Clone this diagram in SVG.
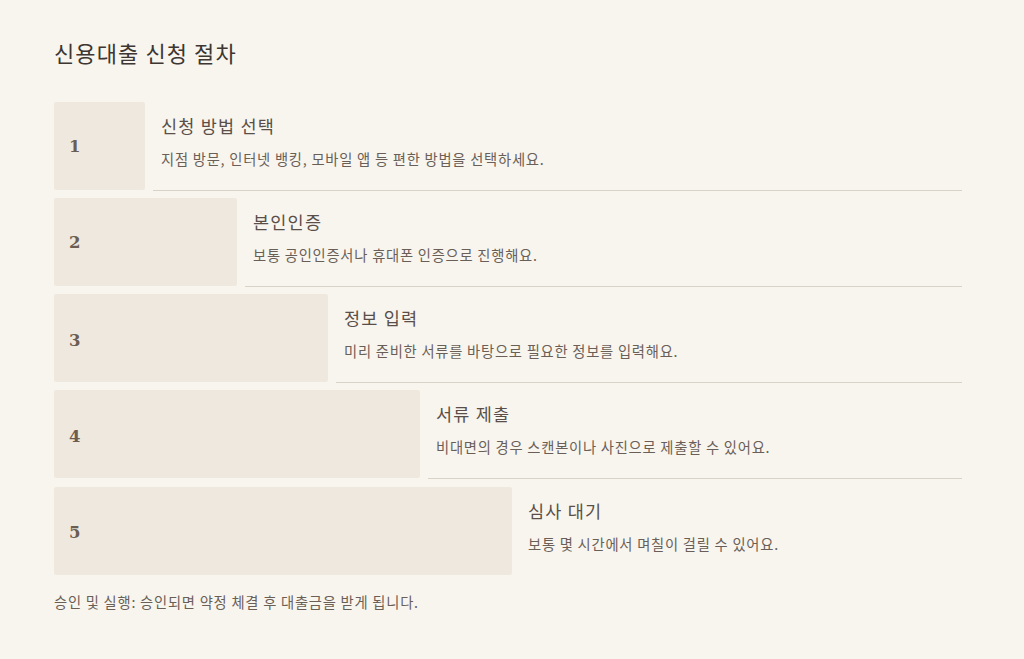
<svg xmlns="http://www.w3.org/2000/svg" width="1024" height="659" viewBox="0 0 1024 659">
<style>
.bg{fill:#f8f5ef}
.box{fill:#efe8de}
.num{font-family:"DejaVu Serif","Liberation Serif",serif;font-weight:bold;font-size:16.5px;fill:#6b5d52}
.t{font-family:"Noto Sans CJK KR","Noto Sans",sans-serif;font-size:17.5px;letter-spacing:1.2px;fill:#5a4f48}
.d{font-family:"Noto Sans CJK KR","Noto Sans",sans-serif;font-size:14.3px;letter-spacing:0.75px;fill:#6a5f57}
.h{font-family:"Noto Sans CJK KR","Noto Sans",sans-serif;font-size:22px;letter-spacing:1.1px;fill:#3d3632}
.ln{stroke:#d9d2c8;stroke-width:1}
</style>
<rect class="bg" x="0" y="0" width="1024" height="659"/>
<text class="h" x="54" y="62">신용대출 신청 절차</text>
<g id="connectors">
<line class="ln" x1="153" y1="190.5" x2="962" y2="190.5"/>
<line class="ln" x1="245" y1="286.5" x2="962" y2="286.5"/>
<line class="ln" x1="336" y1="382.5" x2="962" y2="382.5"/>
<line class="ln" x1="428" y1="478.5" x2="962" y2="478.5"/>
</g>
<g id="step1">
<rect class="box" x="54" y="102" width="91" height="88" rx="2"/>
<text class="num" x="69" y="152">1</text>
<text class="t" x="161" y="133">신청 방법 선택</text>
<text class="d" x="161" y="165">지점 방문, 인터넷 뱅킹, 모바일 앱 등 편한 방법을 선택하세요.</text>
</g>
<g id="step2">
<rect class="box" x="54" y="198" width="183" height="88" rx="2"/>
<text class="num" x="69" y="248">2</text>
<text class="t" x="253" y="229">본인인증</text>
<text class="d" x="253" y="261">보통 공인인증서나 휴대폰 인증으로 진행해요.</text>
</g>
<g id="step3">
<rect class="box" x="54" y="294" width="274" height="88" rx="2"/>
<text class="num" x="69" y="346">3</text>
<text class="t" x="344" y="325">정보 입력</text>
<text class="d" x="344" y="357">미리 준비한 서류를 바탕으로 필요한 정보를 입력해요.</text>
</g>
<g id="step4">
<rect class="box" x="54" y="390" width="366" height="88" rx="2"/>
<text class="num" x="69" y="442">4</text>
<text class="t" x="436" y="421">서류 제출</text>
<text class="d" x="436" y="453">비대면의 경우 스캔본이나 사진으로 제출할 수 있어요.</text>
</g>
<g id="step5">
<rect class="box" x="54" y="487" width="458" height="88" rx="2"/>
<text class="num" x="69" y="538">5</text>
<text class="t" x="528" y="518">심사 대기</text>
<text class="d" x="528" y="550">보통 몇 시간에서 며칠이 걸릴 수 있어요.</text>
</g>
<text class="d" x="54" y="608">승인 및 실행: 승인되면 약정 체결 후 대출금을 받게 됩니다.</text>
</svg>
